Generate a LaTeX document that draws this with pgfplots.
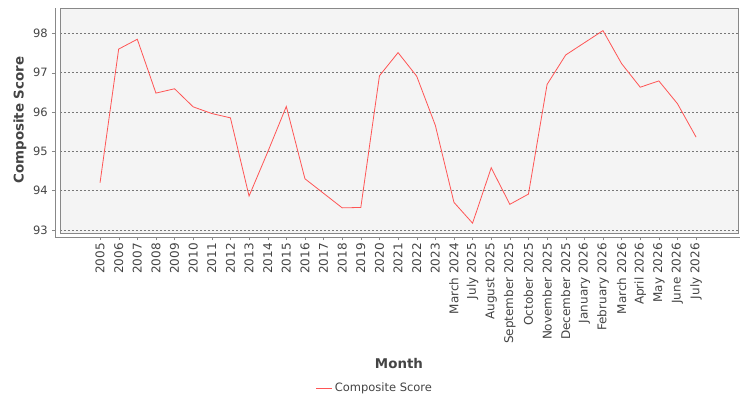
\documentclass[border=0pt]{standalone}
\usepackage{fontspec}
\setmainfont{DejaVu Sans}
\usepackage{pgfplots}
\pgfplotsset{compat=1.18}
\definecolor{bgc}{HTML}{F4F4F4}
\definecolor{txt}{HTML}{444444}
\definecolor{lred}{HTML}{FF5555}
\definecolor{frame}{HTML}{888888}
\definecolor{gridc}{HTML}{777777}
\begin{document}
\begin{tikzpicture}
\begin{axis}[
  scale only axis, width=678pt, height=225pt,
  xmin=-2.15, xmax=34.25, ymin=92.92, ymax=98.645,
  axis background/.style={fill=bgc},
  axis line style={draw=frame, line width=0.8pt},
  xtick={0,...,32},
  xticklabels={2005,2006,2007,2008,2009,2010,2011,2012,2013,2014,2015,2016,2017,2018,2019,2020,2021,2022,2023,March 2024,July 2025,August 2025,September 2025,October 2025,November 2025,December 2025,January 2026,February 2026,March 2026,April 2026,May 2026,June 2026,July 2026},
  ytick={93,...,98},
  xtick pos=bottom, ytick pos=left, tick align=outside, major tick length=3pt,
  xtick style={draw=frame, yshift=-4pt},
  ytick style={draw=frame, xshift=-5pt},
  x tick label style={rotate=90, anchor=east, inner sep=0pt, font=\fontsize{12}{14}\selectfont, text=txt},
  y tick label style={anchor=east, inner sep=0pt, font=\fontsize{11.5}{13}\selectfont, text=txt},
  xticklabel shift=7pt, yticklabel shift=9pt,
  /pgf/number format/assume math mode=true,
  ymajorgrids, grid style={gridc, line width=0.6pt, dash pattern=on 2pt off 2pt},
  xlabel={Month}, ylabel={Composite Score},
  xlabel style={at={(axis description cs:0.5,-0.578)}, anchor=center, font=\fontsize{13.4}{15}\selectfont\bfseries, text=txt},
  ylabel style={at={(axis description cs:-0.059,0.502)}, anchor=center, rotate=0, font=\fontsize{13.4}{15}\selectfont\bfseries, text=txt},
  legend style={at={(axis description cs:0.4646,-0.689)}, anchor=center, draw=none, fill=none, font=\fontsize{11.5}{13}\selectfont, text=txt, inner sep=0pt},
  legend image code/.code={\draw[#1] (0pt,0pt) -- (16pt,0pt);},
]
\addplot[color=lred, line width=0.8pt] coordinates {
(0,94.20) (1,97.60) (2,97.85) (3,96.48) (4,96.59) (5,96.13) (6,95.96) (7,95.85)
(8,93.86) (9,94.98) (10,96.14) (11,94.30) (12,93.93) (13,93.56) (14,93.57) (15,96.92)
(16,97.51) (17,96.91) (18,95.66) (19,93.70) (20,93.17) (21,94.58) (22,93.65) (23,93.91)
(24,96.70) (25,97.45) (26,97.76) (27,98.07) (28,97.23) (29,96.63) (30,96.79) (31,96.21)
(32,95.36)
};
\addlegendentry{Composite Score}
\end{axis}
\draw[frame, line width=0.8pt] (-5pt,225pt) -- (-5pt,-4pt) -- (680pt,-4pt);
\pgfresetboundingbox
\path (-60pt,-167pt) rectangle (690pt,233pt);
\end{tikzpicture}
\end{document}
